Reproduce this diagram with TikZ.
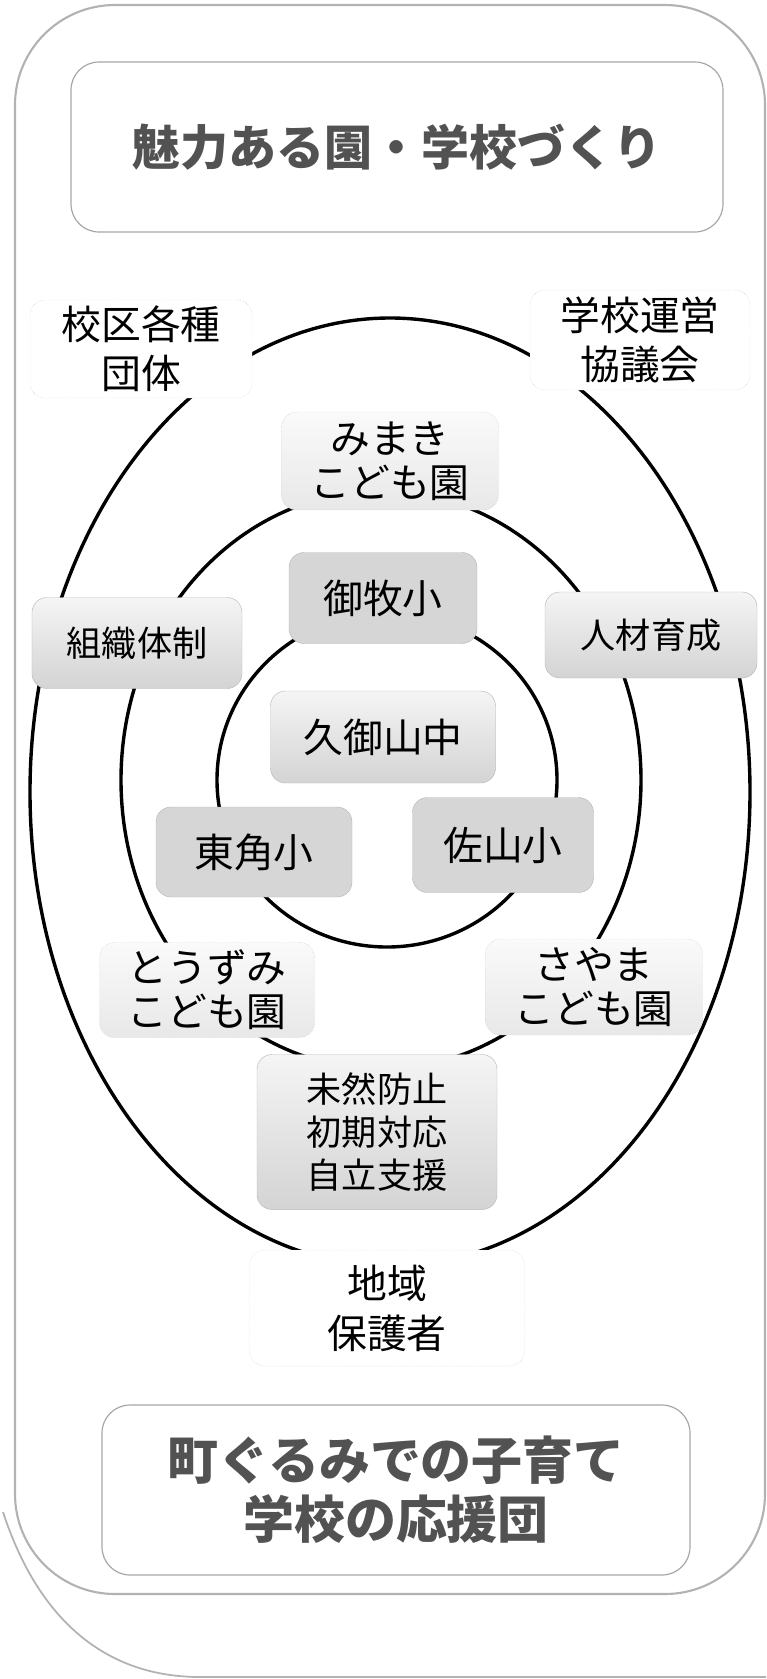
\documentclass[tikz,border=0pt]{standalone}
\usepackage{fontspec}
\usepackage{tikz}
\newfontfamily\jp{Noto Sans CJK JP}
\newcommand{\titlefont}{\jp\bfseries\fontsize{41pt}{50pt}\selectfont}
\newcommand{\capfont}{\jp\bfseries\fontsize{43.5pt}{50.4pt}\selectfont}
\newcommand{\bodyfont}{\jp\fontsize{34pt}{41.5pt}\selectfont}
\newcommand{\kidfont}{\jp\fontsize{34pt}{37.6pt}\selectfont}
\newcommand{\smallfont}{\jp\fontsize{30pt}{36.7pt}\selectfont}

\begin{document}
\begin{tikzpicture}[x=0.3mm, y=-0.3mm]
\tikzstyle{ring}=[line width=2.9pt, black]
\tikzstyle{frame}=[line width=1.8pt, gray!60]
\tikzstyle{headbox}=[rectangle, rounded corners=8.4mm, draw=gray!70, line width=1pt, fill=white, align=center, text=black!68]
\tikzstyle{plainbox}=[rectangle, rounded corners=4.5mm, draw=gray!40, densely dotted, fill=white, align=center, font=\bodyfont]
\tikzstyle{kidbox}=[rectangle, rounded corners=4.5mm, draw=gray!50, densely dotted, top color=gray!4, bottom color=gray!18, align=center, font=\kidfont]
\tikzstyle{taskbox}=[rectangle, rounded corners=4.5mm, draw=gray!55, top color=gray!8, bottom color=gray!34, align=center, font=\smallfont]
\tikzstyle{schoolbox}=[rectangle, rounded corners=4.5mm, draw=gray!55, fill=gray!32, align=center, font=\bodyfont]

\useasboundingbox (0,0) rectangle (766,1679);

% outer frame
\draw[frame, rounded corners=30mm] (15,5) rectangle (765,1594);
\draw[frame, line width=1.5pt] (3,1512) .. controls (40,1625) and (110,1677) .. (200,1677) -- (766,1677);

% rings
\foreach \cx/\cy/\rx/\ry in {390/792/360/474, 381/780/260/289, 387/780/170/167}
   \draw[ring] (\cx,\cy) ellipse [x radius=\rx, y radius=\ry];

\node[headbox, font=\titlefont, minimum width=195.6mm, minimum height=51mm] (goal) at (397,147) {魅力ある園・学校づくり};

\node[plainbox, minimum width=66.6mm, minimum height=29.4mm] (kouku) at (141,349) {校区各種\\団体};
\node[plainbox, minimum width=66mm, minimum height=30mm] (unei) at (640,340) {学校運営\\協議会};

\node[kidbox, minimum width=65.1mm, minimum height=29.4mm] (mimaki) at (390,461) {みまき\\こども園};
\node[schoolbox, minimum width=56.4mm, minimum height=27.3mm] (mimakisho) at (383,598) {御牧小};
\node[taskbox, minimum width=63mm, minimum height=27.3mm] (soshiki) at (137,643) {組織体制};
\node[taskbox, minimum width=63.6mm, minimum height=25.8mm] (jinzai) at (651,635) {人材育成};
\node[taskbox, font=\bodyfont, minimum width=67.5mm, minimum height=27.6mm] (kumiyama) at (383,737) {久御山中};
\node[schoolbox, minimum width=58.8mm, minimum height=27mm] (higashi) at (254,852) {東角小};
\node[schoolbox, minimum width=54.3mm, minimum height=28.5mm] (sayamasho) at (503,845) {佐山小};
\node[kidbox, minimum width=64.5mm, minimum height=28.5mm] (touzumi) at (207,990) {とうずみ\\こども園};
\node[kidbox, minimum width=65.1mm, minimum height=28.8mm] (sayama) at (594,987) {さやま\\こども園};
\node[taskbox, minimum width=72mm, minimum height=46.5mm] (mizen) at (377,1132) {未然防止\\初期対応\\自立支援};

\node[plainbox, font=\jp\fontsize{34pt}{42.7pt}\selectfont, minimum width=82.5mm, minimum height=34.8mm] (chiiki) at (387,1308) {地域\\保護者};

\node[headbox, font=\capfont, minimum width=176.4mm, minimum height=51mm] (ouen) at (396,1490) {町ぐるみでの子育て\\学校の応援団};

\end{tikzpicture}
\end{document}
